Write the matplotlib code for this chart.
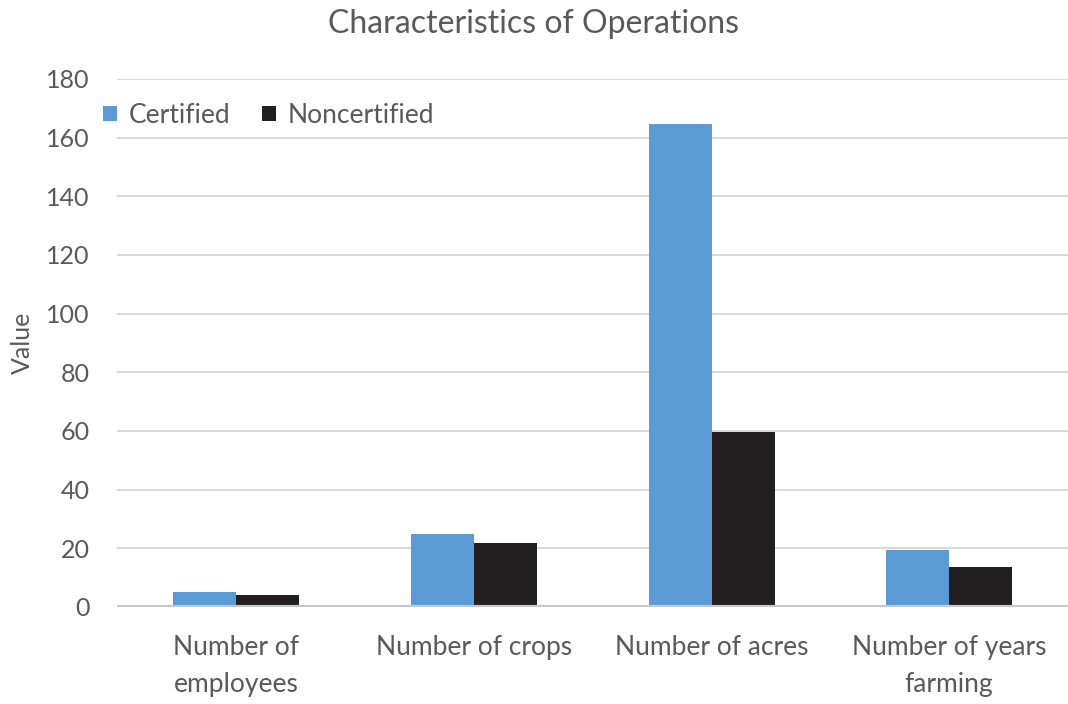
import numpy as np
import matplotlib
matplotlib.use('Agg')
import matplotlib.pyplot as plt

# Operation characteristics, certified vs noncertified
categories = ['Number of\nemployees', 'Number of crops',
              'Number of acres', 'Number of years\nfarming']
certified = [5.2, 25, 164.5, 19.3]
noncertified = [4, 21.6, 59.5, 13.5]
yticks = [0, 20, 40, 60, 80, 100, 120, 140, 160, 180]

plt.rcParams['font.family'] = ['Lato', 'DejaVu Sans']
txtColour = '#595959'

fig = plt.figure(figsize=(10.68, 7.04), dpi=100)
ax = fig.add_axes([0.11, 0.138, 0.89, 0.75])

x = np.arange(len(categories))
barW = 0.265
ax.bar(x - barW / 2, certified, width=barW, color='#5b9bd5', zorder=3,
       label='Certified')
ax.bar(x + barW / 2, noncertified, width=barW, color='#231f20', zorder=3,
       label='Noncertified')

ax.set_xlim(-0.5, len(categories) - 0.5)
ax.set_ylim(0, 180)
ax.set_yticks(yticks)
ax.set_yticklabels([str(v) for v in yticks], fontsize=18, color=txtColour)
ax.set_xticks(x)
ax.set_xticklabels(categories, fontsize=19, color=txtColour, linespacing=1.6)
ax.tick_params(axis='both', length=0)
ax.tick_params(axis='y', pad=20)
ax.tick_params(axis='x', pad=20)

# Horizontal gridlines and a heavier baseline
ax.yaxis.grid(True, color='#d9d9d9', lw=1.5, zorder=0)
ax.axhline(0, color='#c8c8c8', lw=3, zorder=4)
for side in ['top', 'right', 'left', 'bottom']:
    ax.spines[side].set_visible(False)

ax.set_ylabel('Value', fontsize=18, color=txtColour, labelpad=9)

fig.text(0.5, 0.966, 'Characteristics of Operations', ha='center', va='center',
         fontsize=23, color=txtColour)

ax.legend(loc='upper left', bbox_to_anchor=(-0.04, 1.0), ncol=2, frameon=False,
          fontsize=19, handlelength=0.52, handleheight=0.52, handletextpad=0.45,
          columnspacing=1.2, labelcolor=txtColour)

fig.savefig('out.png', dpi=100, facecolor='white')
